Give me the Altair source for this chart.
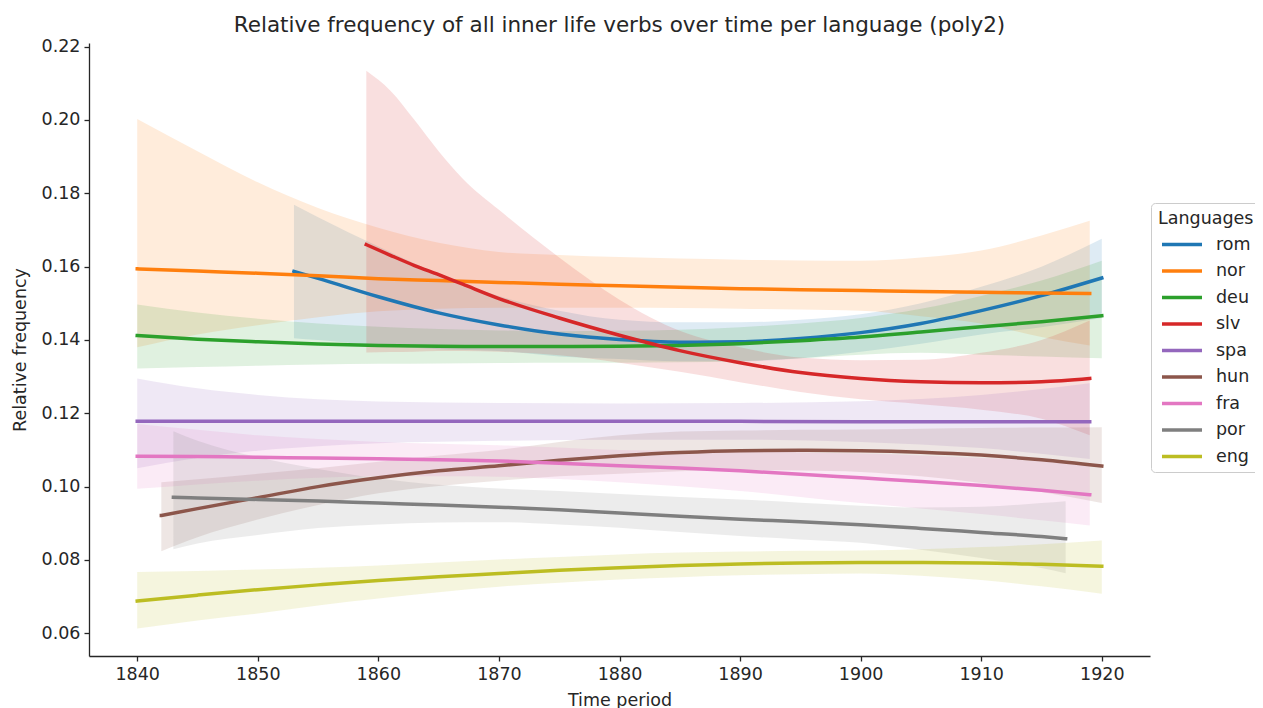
import altair as alt
import pandas as pd

languages = ["rom", "nor", "deu", "slv", "spa", "hun", "fra", "por", "eng"]
palette = ["#1f77b4", "#ff7f0e", "#2ca02c", "#d62728", "#9467bd",
           "#8c564b", "#e377c2", "#7f7f7f", "#bcbd22"]

x_ticks = [1840, 1850, 1860, 1870, 1880, 1890, 1900, 1910, 1920]
y_ticks = [0.06, 0.08, 0.10, 0.12, 0.14, 0.16, 0.18, 0.20, 0.22]

rom_years = [1853, 1855, 1860, 1865, 1870, 1875, 1880, 1885, 1890, 1895, 1900, 1905, 1910, 1915, 1920]
rom_mid = [0.1587, 0.1568, 0.1518, 0.1474, 0.1441, 0.1416, 0.1401, 0.1394, 0.1395, 0.1404, 0.1420, 0.1445, 0.1480, 0.1521, 0.1569]
rom_hi = [0.1769, 0.1735, 0.1655, 0.1580, 0.1520, 0.1480, 0.1455, 0.1448, 0.1448, 0.1455, 0.1470, 0.1500, 0.1545, 0.1600, 0.1676]
rom_lo = [0.1405, 0.1400, 0.1385, 0.1375, 0.1370, 0.1355, 0.1348, 0.1342, 0.1342, 0.1350, 0.1368, 0.1390, 0.1415, 0.1435, 0.1460]

nor_years = [1840, 1845, 1850, 1855, 1860, 1865, 1870, 1875, 1880, 1885, 1890, 1895, 1900, 1905, 1910, 1915, 1919]
nor_mid = [0.1594, 0.1588, 0.1582, 0.1575, 0.1567, 0.1562, 0.1557, 0.1552, 0.1548, 0.1544, 0.1540, 0.1537, 0.1535, 0.1532, 0.1530, 0.1528, 0.1527]
nor_hi = [0.2003, 0.1915, 0.1830, 0.1760, 0.1706, 0.1665, 0.1640, 0.1632, 0.1626, 0.1622, 0.1619, 0.1617, 0.1616, 0.1625, 0.1644, 0.1685, 0.1725]
nor_lo = [0.1380, 0.1415, 0.1440, 0.1462, 0.1478, 0.1485, 0.1488, 0.1488, 0.1488, 0.1487, 0.1485, 0.1483, 0.1480, 0.1465, 0.1445, 0.1408, 0.1385]

deu_years = [1840, 1845, 1850, 1855, 1860, 1865, 1870, 1875, 1880, 1885, 1890, 1895, 1900, 1905, 1910, 1915, 1920]
deu_mid = [0.1412, 0.1402, 0.1395, 0.1389, 0.1385, 0.1383, 0.1382, 0.1382, 0.1383, 0.1385, 0.1390, 0.1398, 0.1408, 0.1422, 0.1436, 0.1450, 0.1466]
deu_hi = [0.1497, 0.1475, 0.1458, 0.1445, 0.1436, 0.1430, 0.1426, 0.1424, 0.1425, 0.1428, 0.1435, 0.1445, 0.1460, 0.1485, 0.1520, 0.1562, 0.1616]
deu_lo = [0.1322, 0.1326, 0.1330, 0.1333, 0.1335, 0.1336, 0.1337, 0.1338, 0.1338, 0.1339, 0.1342, 0.1350, 0.1360, 0.1365, 0.1360, 0.1355, 0.1350]

slv_years = [1859, 1861, 1863, 1865, 1867, 1870, 1875, 1880, 1885, 1890, 1895, 1900, 1905, 1910, 1915, 1919]
slv_mid = [0.1660, 0.1631, 0.1603, 0.1578, 0.1552, 0.1513, 0.1460, 0.1413, 0.1371, 0.1338, 0.1311, 0.1295, 0.1286, 0.1283, 0.1286, 0.1295]
slv_hi = [0.2134, 0.2080, 0.2000, 0.1915, 0.1840, 0.1755, 0.1625, 0.1510, 0.1425, 0.1380, 0.1352, 0.1345, 0.1346, 0.1365, 0.1400, 0.1453]
slv_lo = [0.1366, 0.1367, 0.1368, 0.1370, 0.1370, 0.1368, 0.1358, 0.1338, 0.1313, 0.1285, 0.1258, 0.1238, 0.1225, 0.1210, 0.1185, 0.1140]

spa_years = [1840, 1845, 1850, 1855, 1860, 1870, 1880, 1890, 1900, 1910, 1919]
spa_mid = [0.1178, 0.1178, 0.1178, 0.1178, 0.1178, 0.1178, 0.1178, 0.1178, 0.1177, 0.1177, 0.1177]
spa_hi = [0.1295, 0.1268, 0.1250, 0.1238, 0.1232, 0.1228, 0.1227, 0.1228, 0.1233, 0.1250, 0.1282]
spa_lo = [0.1050, 0.1078, 0.1098, 0.1110, 0.1118, 0.1125, 0.1128, 0.1128, 0.1122, 0.1105, 0.1075]

hun_years = [1842, 1845, 1850, 1855, 1860, 1865, 1870, 1875, 1880, 1885, 1890, 1895, 1900, 1905, 1910, 1915, 1920]
hun_mid = [0.0921, 0.0940, 0.0970, 0.1000, 0.1024, 0.1043, 0.1057, 0.1072, 0.1084, 0.1093, 0.1098, 0.1099, 0.1098, 0.1094, 0.1086, 0.1073, 0.1056]
hun_hi = [0.1012, 0.1020, 0.1035, 0.1050, 0.1068, 0.1085, 0.1100, 0.1122, 0.1140, 0.1150, 0.1153, 0.1155, 0.1156, 0.1158, 0.1160, 0.1161, 0.1162]
hun_lo = [0.0824, 0.0862, 0.0910, 0.0950, 0.0982, 0.1002, 0.1016, 0.1028, 0.1035, 0.1042, 0.1045, 0.1044, 0.1040, 0.1028, 0.1010, 0.0985, 0.0955]

fra_years = [1840, 1845, 1850, 1855, 1860, 1865, 1870, 1875, 1880, 1885, 1890, 1895, 1900, 1905, 1910, 1915, 1919]
fra_mid = [0.1083, 0.1082, 0.1080, 0.1078, 0.1076, 0.1073, 0.1070, 0.1064, 0.1057, 0.1051, 0.1043, 0.1034, 0.1024, 0.1014, 0.1003, 0.0990, 0.0978]
fra_hi = [0.1171, 0.1155, 0.1140, 0.1130, 0.1122, 0.1117, 0.1113, 0.1107, 0.1100, 0.1098, 0.1097, 0.1094, 0.1090, 0.1085, 0.1078, 0.1070, 0.1062]
fra_lo = [0.0994, 0.1006, 0.1016, 0.1024, 0.1028, 0.1028, 0.1027, 0.1021, 0.1012, 0.1001, 0.0988, 0.0972, 0.0955, 0.0940, 0.0925, 0.0908, 0.0894]

por_years = [1843, 1845, 1850, 1855, 1860, 1865, 1870, 1875, 1880, 1885, 1890, 1895, 1900, 1905, 1910, 1915, 1917]
por_mid = [0.0971, 0.0969, 0.0965, 0.0961, 0.0955, 0.0950, 0.0944, 0.0937, 0.0928, 0.0919, 0.0911, 0.0904, 0.0896, 0.0886, 0.0875, 0.0864, 0.0858]
por_hi = [0.1151, 0.1125, 0.1080, 0.1048, 0.1022, 0.1005, 0.0995, 0.0988, 0.0980, 0.0972, 0.0965, 0.0956, 0.0948, 0.0943, 0.0945, 0.0955, 0.0960]
por_lo = [0.0829, 0.0845, 0.0868, 0.0887, 0.0897, 0.0902, 0.0903, 0.0897, 0.0888, 0.0876, 0.0865, 0.0856, 0.0847, 0.0828, 0.0805, 0.0778, 0.0764]

eng_years = [1840, 1845, 1850, 1855, 1860, 1865, 1870, 1875, 1880, 1885, 1890, 1895, 1900, 1905, 1910, 1915, 1920]
eng_mid = [0.0688, 0.0704, 0.0719, 0.0732, 0.0744, 0.0754, 0.0763, 0.0772, 0.0779, 0.0785, 0.0789, 0.0792, 0.0793, 0.0793, 0.0792, 0.0788, 0.0783]
eng_hi = [0.0767, 0.0770, 0.0774, 0.0779, 0.0785, 0.0793, 0.0801, 0.0808, 0.0815, 0.0820, 0.0823, 0.0825, 0.0826, 0.0829, 0.0835, 0.0843, 0.0853]
eng_lo = [0.0613, 0.0635, 0.0654, 0.0676, 0.0695, 0.0712, 0.0727, 0.0738, 0.0747, 0.0753, 0.0758, 0.0761, 0.0763, 0.0757, 0.0745, 0.0728, 0.0708]

series = {
    "rom": (rom_years, rom_mid, rom_lo, rom_hi),
    "nor": (nor_years, nor_mid, nor_lo, nor_hi),
    "deu": (deu_years, deu_mid, deu_lo, deu_hi),
    "slv": (slv_years, slv_mid, slv_lo, slv_hi),
    "spa": (spa_years, spa_mid, spa_lo, spa_hi),
    "hun": (hun_years, hun_mid, hun_lo, hun_hi),
    "fra": (fra_years, fra_mid, fra_lo, fra_hi),
    "por": (por_years, por_mid, por_lo, por_hi),
    "eng": (eng_years, eng_mid, eng_lo, eng_hi),
}

rows = []
for lang in languages:
    yrs, mid, lo, hi = series[lang]
    for yr, m, l, h in zip(yrs, mid, lo, hi):
        rows.append({"lang": lang, "year": yr, "mid": m, "lo": l, "hi": h})
df = pd.DataFrame(rows)

FONT = "DejaVu Sans"
TXT = "#262626"

x_enc = alt.X("year:Q",
              scale=alt.Scale(domain=[1836, 1924], nice=False, zero=False),
              axis=alt.Axis(values=x_ticks, format="d", title="Time period"))
y_scale = alt.Scale(domain=[0.0538, 0.221], nice=False, zero=False)
y_axis = alt.Axis(values=y_ticks, format=".2f", title="Relative frequency")

legend = alt.Legend(
    title="Languages", orient="none", legendX=1062, legendY=160,
    symbolType="M-2,0H2", symbolSize=400, symbolStrokeWidth=3.5, symbolOpacity=1,
    symbolFillColor="transparent", symbolOffset=12,
    labelFontSize=17.5, titleFontSize=17.5, titleFontWeight="normal",
    labelFont=FONT, titleFont=FONT, labelColor=TXT, titleColor=TXT,
    fillColor="white", strokeColor="#cccccc", cornerRadius=4,
    padding=7, rowPadding=5.5, labelOffset=22, titlePadding=5,
)
color_enc = alt.Color("lang:N", scale=alt.Scale(domain=languages, range=palette), legend=legend)

bands = alt.Chart(df).mark_area(opacity=0.15, interpolate="monotone").encode(
    x=x_enc,
    y=alt.Y("lo:Q", scale=y_scale, axis=y_axis),
    y2="hi:Q",
    color=color_enc,
)

lines = alt.Chart(df).mark_line(strokeWidth=3.5, interpolate="monotone", strokeCap="square").encode(
    x=x_enc,
    y=alt.Y("mid:Q", scale=y_scale, axis=y_axis),
    color=color_enc,
)

chart = alt.layer(bands, lines).properties(
    width=1061,
    height=613,
    autosize=alt.AutoSizeParams(type="none"),
    padding={"left": 81, "top": 35, "right": 105, "bottom": 55},
    title=alt.TitleParams(
        text="Relative frequency of all inner life verbs over time per language (poly2)",
        fontSize=21.5, font=FONT, fontWeight="normal", anchor="middle",
        offset=1, color=TXT,
    ),
).configure_view(stroke=None).configure_axis(
    grid=False,
    domainColor=TXT, tickColor=TXT, labelColor=TXT, titleColor=TXT,
    labelFont=FONT, titleFont=FONT, labelFontSize=17.5, titleFontSize=17.5,
    titleFontWeight="normal", tickSize=5, labelPadding=4, domainWidth=1.3, tickWidth=1.3,
).configure_axisY(titlePadding=12).configure_axisX(titlePadding=9)

chart.save("out.html", embed_options={"renderer": "svg", "actions": False})
